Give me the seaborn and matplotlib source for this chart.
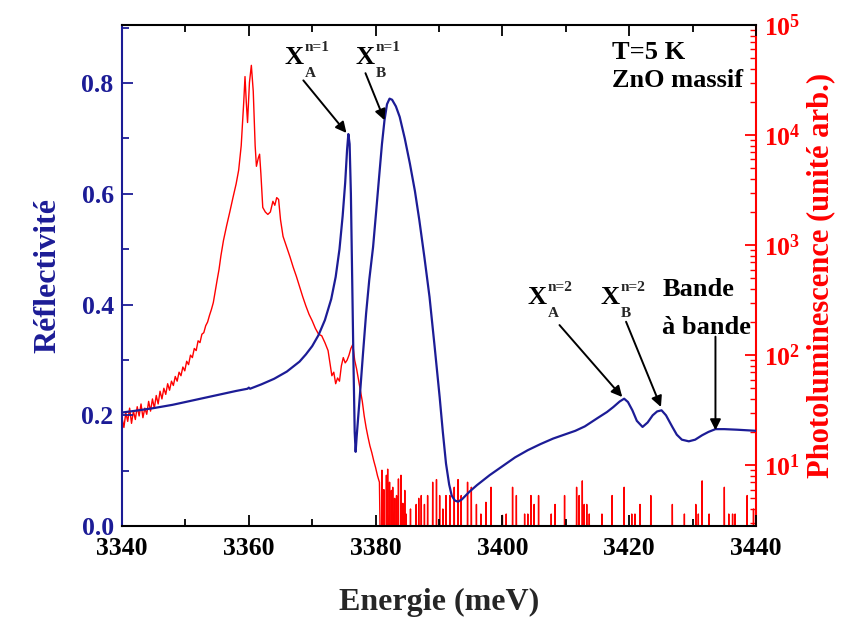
import numpy as np
import pandas as pd
import matplotlib
matplotlib.use("Agg")
import matplotlib.pyplot as plt
import matplotlib.ticker as mticker
import seaborn as sns

# Reflectivity (left axis)
refl_e = [3340.0, 3342, 3345, 3348, 3350, 3352, 3354, 3356, 3358, 3359.8, 3360.0, 3360.2,
          3362, 3364, 3366, 3368, 3369, 3370, 3371, 3372, 3373, 3373.7, 3374.3, 3374.8,
          3375.2, 3375.5, 3375.7, 3375.9, 3376.1, 3376.3, 3376.5, 3376.7, 3376.85, 3377.0,
          3377.5, 3378.0, 3378.5, 3379.0, 3379.6, 3380.1, 3380.6, 3381.0, 3381.4, 3381.8,
          3382.2, 3382.6, 3383.2, 3383.8, 3384.6, 3385.4, 3386.2, 3386.9, 3387.7, 3388.5,
          3389.3, 3390.1, 3390.6, 3391.1, 3391.6, 3392.0, 3392.5, 3393.0, 3393.6, 3394.2,
          3394.8, 3396, 3398, 3400, 3402, 3404, 3406, 3408, 3410, 3411.5, 3413, 3415,
          3416.5, 3417.5, 3418.5, 3419.2, 3419.8, 3420.5, 3421.2, 3422.1, 3422.9, 3423.7,
          3424.4, 3425.1, 3425.8, 3426.8, 3427.5, 3428.3, 3429.4, 3430.4, 3431.5, 3432.5,
          3433.6, 3435, 3437, 3440]
refl_v = [0.205, 0.208, 0.213, 0.219, 0.224, 0.229, 0.234, 0.239, 0.244, 0.248, 0.250, 0.248,
          0.256, 0.266, 0.279, 0.297, 0.31, 0.325, 0.345, 0.372, 0.41, 0.45, 0.5, 0.56,
          0.62, 0.68, 0.708, 0.69, 0.6, 0.45, 0.3, 0.17, 0.134, 0.16,
          0.233, 0.31, 0.384, 0.445, 0.504, 0.57, 0.637, 0.69, 0.733, 0.762,
          0.772, 0.77, 0.758, 0.739, 0.70, 0.655, 0.605, 0.552, 0.485, 0.414,
          0.325, 0.233, 0.17, 0.113, 0.075, 0.055, 0.046, 0.044, 0.048, 0.055,
          0.062, 0.074, 0.092, 0.108, 0.124, 0.137, 0.148, 0.158, 0.166, 0.172, 0.18, 0.195,
          0.206, 0.215, 0.225, 0.230, 0.224, 0.209, 0.19, 0.179, 0.187, 0.200,
          0.207, 0.209, 0.2, 0.179, 0.165, 0.156, 0.153, 0.156, 0.164, 0.170,
          0.175, 0.175, 0.174, 0.172]

# Photoluminescence main emission (right axis, log)
pl_e = [3340.0, 3340.3, 3340.6, 3340.9, 3341.2, 3341.5, 3341.8, 3342.1, 3342.4, 3342.7,
        3343.0, 3343.3, 3343.6, 3343.9, 3344.2, 3344.5, 3344.8, 3345.1, 3345.4, 3345.7,
        3346.0, 3346.3, 3346.6, 3346.9, 3347.2, 3347.5, 3347.8, 3348.1, 3348.4, 3348.7,
        3349.0, 3349.3, 3349.6, 3349.9, 3350.2, 3350.5, 3350.8, 3351.1, 3351.4, 3351.7,
        3352.0, 3352.3, 3352.6, 3352.9, 3353.2, 3353.5, 3353.8, 3354.1, 3354.4, 3354.7,
        3355.0, 3355.3, 3355.6, 3356.0, 3356.5, 3357.0, 3357.5, 3358.0, 3358.4, 3358.8,
        3359.2, 3359.4, 3359.6, 3359.8, 3360.1, 3360.4, 3360.7, 3361.0, 3361.2, 3361.5,
        3361.7, 3361.9, 3362.2, 3362.6, 3363.0, 3363.4, 3363.8, 3364.1, 3364.4, 3364.7,
        3365.0, 3365.4, 3366.0, 3366.5, 3367.0, 3367.5, 3368.0, 3368.5, 3369.0, 3369.5,
        3370.0, 3370.5, 3371.0, 3371.5, 3372.0, 3372.5, 3372.8, 3373.1, 3373.4, 3373.7,
        3374.0, 3374.3, 3374.6, 3374.9, 3375.2, 3375.5, 3375.8, 3376.1, 3376.4, 3376.7,
        3377.0, 3377.3, 3377.6, 3377.9, 3378.2, 3378.5, 3378.8, 3379.1, 3379.4, 3379.7,
        3380.0, 3380.3, 3380.6, 3380.8]
pl_v = [27, 22, 30, 25, 33, 24, 31, 26, 34, 28,
        36, 27, 33, 29, 38, 31, 40, 33, 43, 36,
        47, 40, 50, 44, 55, 48, 58, 53, 64, 58,
        70, 65, 78, 72, 88, 82, 100, 95, 115, 110,
        135, 130, 155, 160, 185, 200, 230, 260, 300, 380,
        480, 600, 800, 1100, 1500, 2000, 2700, 3600, 4800, 8000,
        20000, 34000, 20000, 13000, 30000, 43000, 25000, 8000, 5200, 6200,
        6700, 4500, 2200, 2000, 1900, 2000, 2500, 2300, 2700, 2600,
        1700, 1200, 950, 780, 630, 520, 420, 340, 280, 235,
        205, 175, 155, 150, 130, 110, 85, 65, 70, 55,
        62, 58, 80, 95, 85, 90, 100, 115, 125, 90,
        75, 60, 48, 38, 28, 22, 18, 15, 13, 11,
        9.5, 8, 7, 1.0]

# Photoluminescence noise spikes above the detection floor
spike_e = [3381.0, 3381.3, 3381.7, 3381.9, 3382.2, 3382.5, 3382.7, 3383.0, 3383.3, 3383.6,
           3384.0, 3384.3, 3384.6, 3384.8, 3385.5, 3386.4, 3386.8, 3387.2, 3387.7, 3388.2,
           3389.0, 3389.6, 3390.1, 3390.6, 3391.1, 3391.7, 3392.4, 3393.0, 3393.5, 3394.5,
           3395.1, 3395.9, 3396.6, 3397.4, 3398.2, 3400.0, 3400.6, 3401.6, 3402.2, 3403.5,
           3404.0, 3404.5, 3405.0, 3405.7, 3407.7, 3408.3, 3409.8, 3411.7, 3412.1, 3412.6,
           3412.9, 3413.3, 3413.7, 3415.7, 3417.3, 3419.2, 3420.4, 3420.9, 3421.7, 3423.4,
           3426.8, 3428.7, 3430.5, 3430.9, 3431.5, 3432.6, 3435.0, 3435.7, 3436.3, 3436.7,
           3438.6, 3439.6]
spike_h = [9.0, 6.0, 8.1, 9.2, 7.0, 5.9, 6.3, 5.0, 5.3, 7.5,
           8.1, 4.5, 5.9, 3.6, 4.0, 4.4, 5.0, 5.3, 4.4, 5.3,
           7.0, 7.4, 5.3, 4.0, 5.3, 5.3, 6.3, 7.4, 5.3, 7.0,
           6.3, 4.4, 3.6, 4.6, 6.3, 3.5, 3.6, 6.3, 5.3, 3.6,
           3.6, 5.3, 4.4, 5.3, 3.6, 4.4, 5.3, 6.3, 5.3, 7.2,
           4.4, 4.4, 3.6, 3.6, 5.3, 6.3, 3.6, 3.6, 4.4, 5.3,
           4.4, 3.6, 4.4, 3.6, 7.2, 3.6, 6.3, 3.6, 3.6, 3.6,
           5.3, 4.0]

navy = "#1c1c96"
red = "#ff0000"

sns.set_style("ticks")
plt.rcParams["font.family"] = ["Liberation Serif", "DejaVu Serif"]
plt.rcParams["font.weight"] = "bold"
plt.rcParams["mathtext.fontset"] = "custom"
plt.rcParams["mathtext.rm"] = "Liberation Serif:bold"
plt.rcParams["mathtext.bf"] = "Liberation Serif:bold"

refl = pd.DataFrame({"E": refl_e, "R": refl_v})
pl_x, pl_y = list(pl_e), list(pl_v)
for e, h in zip(spike_e, spike_h):
    pl_x += [e - 0.06, e, e + 0.06]
    pl_y += [1.0, h, 1.0]
pl = pd.DataFrame({"E": pl_x, "PL": pl_y})

fig = plt.figure(figsize=(8.42, 6.19), dpi=100)
ax = fig.add_axes([0.1449, 0.1502, 0.753, 0.8094])
ax2 = ax.twinx()

sns.lineplot(data=pl, x="E", y="PL", ax=ax2, color=red, lw=1.0, sort=False, estimator=None)
sns.lineplot(data=refl, x="E", y="R", ax=ax, color=navy, lw=1.6, sort=False, estimator=None)
ax.set_zorder(ax2.get_zorder() + 1)
ax.patch.set_visible(False)

ax.set_xlim(3340, 3440)
ax.set_ylim(0, 0.905)
ax2.set_yscale("log")
ax2.set_ylim(2.8, 1e5)

ax.xaxis.set_major_locator(mticker.MultipleLocator(20))
ax.xaxis.set_minor_locator(mticker.MultipleLocator(10))
ax.yaxis.set_major_locator(mticker.MultipleLocator(0.2))
ax.yaxis.set_minor_locator(mticker.MultipleLocator(0.1))
ax.yaxis.set_major_formatter(mticker.FormatStrFormatter("%.1f"))
ax2.yaxis.set_major_locator(mticker.LogLocator(base=10, numticks=10))
ax2.yaxis.set_minor_locator(mticker.LogLocator(base=10, subs=np.arange(2, 10), numticks=20))
ax2.yaxis.set_minor_formatter(mticker.NullFormatter())
ax2.yaxis.set_major_formatter(mticker.FuncFormatter(
    lambda v, p: r"$\mathbf{10^{%d}}$" % int(round(np.log10(v)))))

ax.tick_params(axis="x", which="both", direction="in", top=True, colors="black",
               labelsize=18.5, pad=8)
ax.tick_params(axis="x", which="major", length=8, width=1.3)
ax.tick_params(axis="x", which="minor", length=5, width=1.3)
ax.tick_params(axis="y", which="both", direction="in", colors=navy, labelsize=18.5, pad=6)
ax.tick_params(axis="y", which="major", length=8, width=1.3)
ax.tick_params(axis="y", which="minor", length=5, width=1.3)
ax2.tick_params(axis="y", which="both", direction="in", colors=red, labelsize=18.5, pad=6)
ax2.tick_params(axis="y", which="major", length=8, width=1.3)
ax2.tick_params(axis="y", which="minor", length=4, width=1.0)

for s in ["top", "bottom"]:
    ax.spines[s].set_color("black")
    ax.spines[s].set_linewidth(1.5)
ax.spines["left"].set_color(navy)
ax.spines["left"].set_linewidth(1.5)
ax.spines["right"].set_visible(False)
for s in ["top", "bottom", "left"]:
    ax2.spines[s].set_visible(False)
ax2.spines["right"].set_color(red)
ax2.spines["right"].set_linewidth(1.5)

ax.set_xlabel("Energie (meV)", fontsize=23, fontweight="bold", labelpad=20)
ax.set_ylabel("Réflectivité", fontsize=23, fontweight="bold", color=navy, labelpad=14)
ax2.set_ylabel("Photoluminescence (unité arb.)", fontsize=22, fontweight="bold",
               color=red, labelpad=4)

txt = dict(fontsize=19, fontweight="bold", color="black")
ax.text(3417.3, 0.856, "T=5 K", ha="left", va="center", **txt)
ax.text(3417.3, 0.805, "ZnO massif", ha="left", va="center", **txt)
ax.text(3425.2, 0.428, "Bande", ha="left", va="center", **txt)
ax.text(3425.2, 0.359, "à bande", ha="left", va="center", **txt)

# exciton labels: X with n superscript and A/B subscript
labels = [("n=1", "A", 3367.2, 0.847), ("n=1", "B", 3378.3, 0.847),
          ("n=2", "A", 3405.5, 0.4125), ("n=2", "B", 3417.0, 0.4125)]
for sup, sub, x, y in labels:
    ax.text(x, y, "X", ha="center", va="center", **txt)
    ax.text(x + 3.6, y + 0.018, sup, ha="center", va="center", fontsize=11,
            fontweight="bold")
    ax.text(x + 2.5, y - 0.029, sub, ha="center", va="center", fontsize=11,
            fontweight="bold")

arrows = [((3368.6, 0.805), (3375.4, 0.71)),
          ((3378.4, 0.818), (3381.4, 0.733)),
          ((3409.0, 0.363), (3418.9, 0.233)),
          ((3419.5, 0.369), (3425.0, 0.215)),
          ((3433.6, 0.342), (3433.6, 0.173))]
for tail, tip in arrows:
    ax.annotate("", xy=tip, xytext=tail,
                arrowprops=dict(arrowstyle="-|>", color="black", lw=1.4,
                                mutation_scale=16, shrinkA=0, shrinkB=0))

fig.savefig("out.png", dpi=100)
